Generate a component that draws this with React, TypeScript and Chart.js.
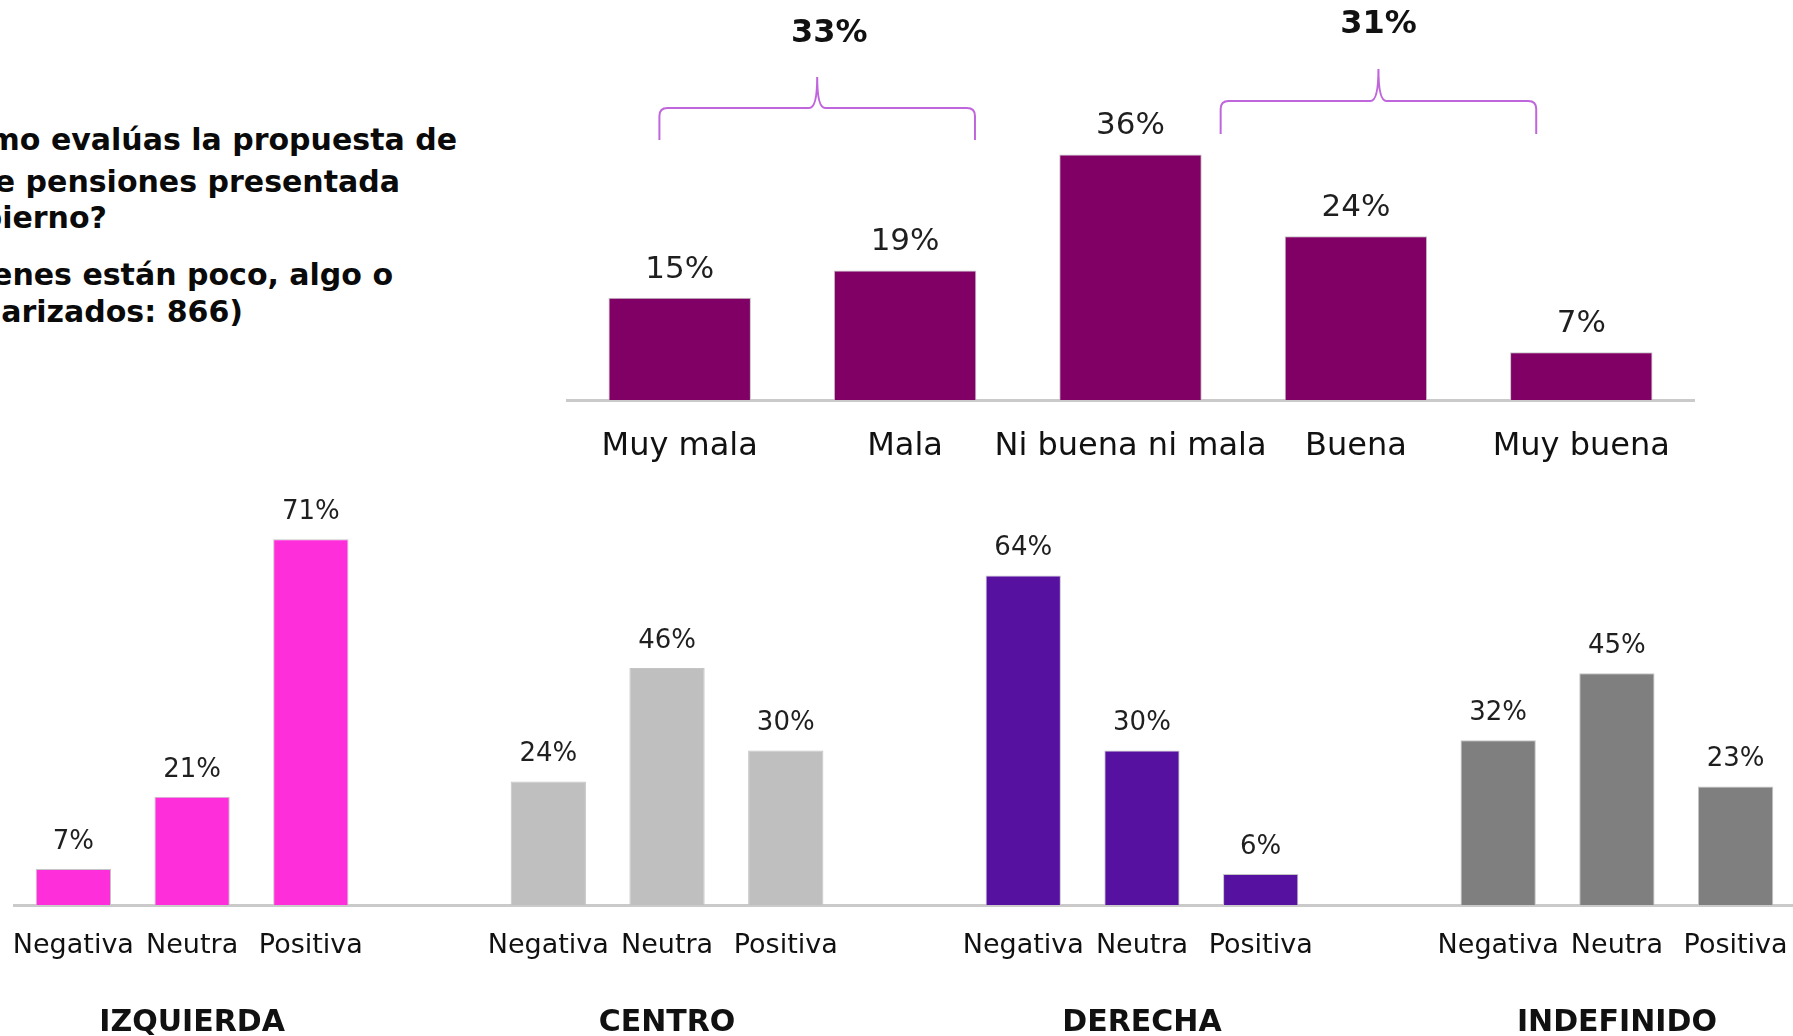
import React, { useEffect, useRef } from 'react';
import { Chart, registerables } from 'chart.js';

Chart.register(...registerables);

const FONT = '"DejaVu Sans", sans-serif';

// ---- Top chart data ----
const ratingCategories = ['Muy mala', 'Mala', 'Ni buena ni mala', 'Buena', 'Muy buena'];
const ratingValues = [15, 19, 36, 24, 7];
const bracketLabels = ['33%', '31%'];
const bracketStart = [-0.09, 2.4]; // in category units
const bracketEnd = [1.31, 3.8];

// ---- Bottom chart data ----
const sentimentCategories = ['Negativa', 'Neutra', 'Positiva'];
const groupNames = ['IZQUIERDA', 'CENTRO', 'DERECHA', 'INDEFINIDO'];
const izquierdaValues = [7, 21, 71];
const centroValues = [24, 46, 30];
const derechaValues = [64, 30, 6];
const indefinidoValues = [32, 45, 23];
const groupColors = ['#FF2EDB', '#BFBFBF', '#5711A1', '#7F7F7F'];

// ---- Question text ----
const questionLines = [
  '¿Cómo evalúas la propuesta de',
  'reforma de pensiones presentada',
  'por el gobierno?',
  '(Base: quienes están poco, algo o',
  'muy familiarizados: 866)',
];
const questionRightEdges = [457, 400, 107, 393, 243];
const questionBaselines = [150, 192, 228, 285, 322];

const valueLabelPlugin = {
  id: 'valueLabels',
  afterDatasetsDraw(chart: any, _args: any, opts: any) {
    const ctx = chart.ctx;
    const ds = chart.data.datasets[0];
    const meta = chart.getDatasetMeta(0);
    ctx.save();
    ctx.font = `${opts.size}px ${FONT}`;
    ctx.fillStyle = opts.color;
    ctx.textAlign = 'center';
    ctx.textBaseline = 'middle';
    meta.data.forEach((el: any, i: number) => {
      const v = ds.data[i];
      if (v == null) return;
      ctx.fillText(`${v}%`, el.x, el.y - opts.offset);
    });
    ctx.restore();
  },
};

const bracketPlugin = {
  id: 'brackets',
  afterDatasetsDraw(chart: any, _args: any, opts: any) {
    const ctx = chart.ctx;
    const xs = chart.scales.x;
    ctx.save();
    opts.items.forEach((b: any, i: number) => {
      const l = xs.getPixelForValue(bracketStart[i]);
      const r = xs.getPixelForValue(bracketEnd[i]);
      const p = (l + r) / 2;
      const rad = 8;
      ctx.beginPath();
      ctx.strokeStyle = opts.color;
      ctx.lineWidth = 2;
      ctx.moveTo(l, b.bottom);
      ctx.lineTo(l, b.mid + rad);
      ctx.quadraticCurveTo(l, b.mid, l + rad, b.mid);
      ctx.lineTo(p - rad, b.mid);
      ctx.quadraticCurveTo(p, b.mid, p, b.top);
      ctx.quadraticCurveTo(p, b.mid, p + rad, b.mid);
      ctx.lineTo(r - rad, b.mid);
      ctx.quadraticCurveTo(r, b.mid, r, b.mid + rad);
      ctx.lineTo(r, b.bottom);
      ctx.stroke();
      ctx.font = `bold ${opts.size}px ${FONT}`;
      ctx.fillStyle = '#111';
      ctx.textAlign = 'center';
      ctx.textBaseline = 'middle';
      ctx.fillText(bracketLabels[i], p + (b.dx || 0), b.textY);
    });
    ctx.restore();
  },
};

const noSidePadding = (height: number) => (s: any) => {
  s.height = height;
  s.paddingLeft = 0;
  s.paddingRight = 0;
};

function topConfig(): any {
  return {
    type: 'bar',
    data: {
      labels: ratingCategories,
      datasets: [
        {
          data: ratingValues,
          backgroundColor: '#800066',
          borderColor: '#C4C4C4',
          borderWidth: 1,
          barPercentage: 0.632,
          categoryPercentage: 1,
        },
      ],
    },
    options: {
      responsive: false,
      animation: false,
      devicePixelRatio: 1,
      layout: { padding: { left: 567, right: 99, top: 93, bottom: 0 } },
      plugins: {
        legend: { display: false },
        tooltip: { enabled: false },
        valueLabels: { size: 31, offset: 28, color: '#1F1F1F' },
        brackets: {
          color: '#C066DD',
          size: 32,
          items: [
            { top: 77, mid: 108, bottom: 140, textY: 34, dx: 12 },
            { top: 69, mid: 101, bottom: 134, textY: 25, dx: 0 },
          ],
        },
      },
      scales: {
        x: {
          grid: { display: false, drawTicks: false, tickLength: 0 },
          border: { display: true, color: '#CACACA', width: 3 },
          ticks: {
            font: { family: FONT, size: 32 },
            color: '#111',
            padding: 27,
            autoSkip: false,
            maxRotation: 0,
            minRotation: 0,
          },
          afterFit: noSidePadding(80),
        },
        y: { display: false, min: 0, max: 45 },
      },
    },
    plugins: [valueLabelPlugin, bracketPlugin],
  };
}

function bottomConfig(): any {
  const groups = [izquierdaValues, centroValues, derechaValues, indefinidoValues];
  const labels: string[] = [];
  const values: (number | null)[] = [];
  const colors: string[] = [];
  const titles: string[] = [];
  groups.forEach((vals, gi) => {
    if (gi > 0) {
      labels.push('');
      values.push(null);
      colors.push('rgba(0,0,0,0)');
      titles.push('');
    }
    sentimentCategories.forEach((c, i) => {
      labels.push(c);
      values.push(vals[i]);
      colors.push(groupColors[gi]);
      titles.push(i === 1 ? groupNames[gi] : '');
    });
  });
  return {
    type: 'bar',
    data: {
      labels,
      datasets: [
        {
          data: values,
          backgroundColor: colors,
          borderColor: '#C4C4C4',
          borderWidth: 1,
          barPercentage: 0.634,
          categoryPercentage: 1,
        },
      ],
    },
    options: {
      responsive: false,
      animation: false,
      devicePixelRatio: 1,
      layout: { padding: { left: 14, right: 5, top: 53, bottom: 0 } },
      plugins: {
        legend: { display: false },
        tooltip: { enabled: false },
        valueLabels: { size: 26, offset: 27, color: '#1F1F1F' },
      },
      scales: {
        x: {
          grid: { display: false, drawTicks: false, tickLength: 0 },
          border: { display: true, color: '#CACACA', width: 3 },
          ticks: {
            font: { family: FONT, size: 27 },
            color: '#111',
            padding: 25,
            autoSkip: false,
            maxRotation: 0,
            minRotation: 0,
          },
          afterFit: noSidePadding(76),
        },
        x2: {
          type: 'category',
          position: 'bottom',
          labels: titles,
          offset: true,
          grid: { display: false, drawTicks: false, tickLength: 0 },
          border: { display: false },
          ticks: {
            font: { family: FONT, size: 30, weight: 'bold' },
            color: '#111',
            padding: 24,
            autoSkip: false,
            maxRotation: 0,
            minRotation: 0,
          },
          afterFit: noSidePadding(55),
        },
        y: { display: false, min: 0, max: 80 },
      },
    },
    plugins: [valueLabelPlugin],
  };
}

function ChartCanvas(props: { make: () => any; left: number; top: number; width: number; height: number }) {
  const ref = useRef<HTMLCanvasElement>(null);
  useEffect(() => {
    const chart = new Chart(ref.current as HTMLCanvasElement, props.make());
    return () => chart.destroy();
  }, []);
  return (
    <canvas
      ref={ref}
      width={props.width}
      height={props.height}
      style={{
        position: 'absolute',
        left: props.left,
        top: props.top,
        width: props.width,
        height: props.height,
      }}
    />
  );
}

export default function App() {
  const qSize = 30;
  return (
    <div
      style={{
        position: 'fixed',
        left: 0,
        top: 0,
        width: 1793,
        height: 1036,
        overflow: 'hidden',
        background: '#ffffff',
      }}
    >
      {questionLines.map((line, i) => (
        <div
          key={i}
          style={{
            position: 'absolute',
            right: 1793 - questionRightEdges[i],
            top: questionBaselines[i] - 0.846 * qSize,
            font: `bold ${qSize}px ${FONT}`,
            lineHeight: `${qSize}px`,
            whiteSpace: 'nowrap',
            color: '#0A0A0A',
          }}
        >
          {line}
        </div>
      ))}
      <ChartCanvas make={topConfig} left={0} top={0} width={1793} height={480} />
      <ChartCanvas make={bottomConfig} left={0} top={440} width={1800} height={596} />
    </div>
  );
}
